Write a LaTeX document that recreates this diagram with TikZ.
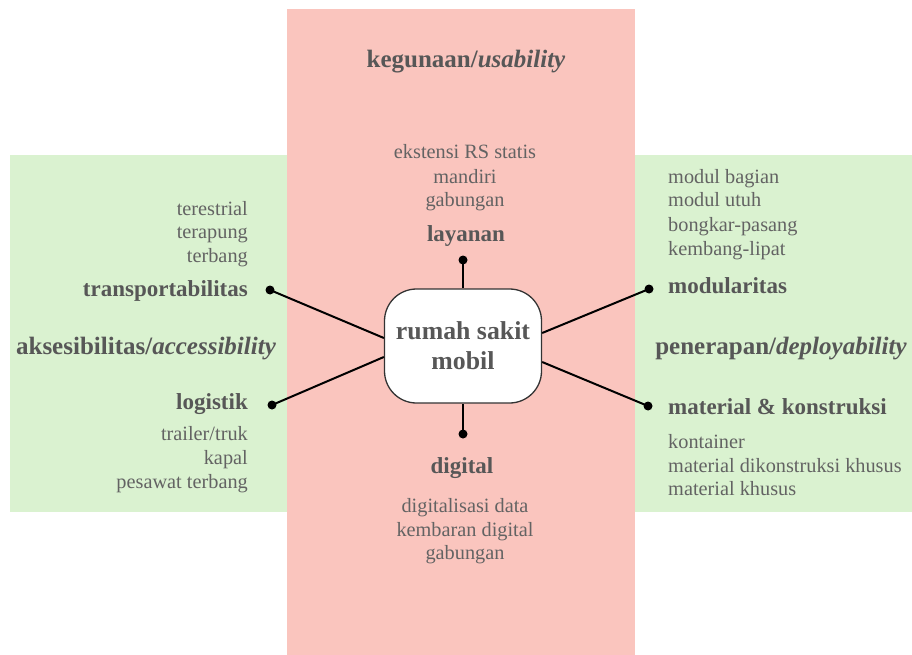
\documentclass[tikz,border=0pt]{standalone}
\usepackage{fontspec}
\setmainfont{Liberation Serif}
\definecolor{pinkbg}{HTML}{FAC5BE}
\definecolor{greenbg}{HTML}{DAF2D0}
\definecolor{headgray}{HTML}{575757}
\definecolor{itemgray}{HTML}{636363}
\tikzset{
  cat/.style={inner sep=0pt, text=headgray, font=\fontsize{25}{30}\selectfont\bfseries},
  sub/.style={inner sep=0pt, text=headgray, font=\fontsize{23}{28}\selectfont\bfseries},
  item/.style={inner sep=0pt, text=itemgray, font=\fontsize{20.3}{24}\selectfont},
  hub/.style={draw=black!80, line width=1.3pt, fill=white, rounded corners=32pt,
    minimum width=157pt, minimum height=114pt, align=center, text=headgray,
    font=\fontsize{25.8}{30}\selectfont\bfseries},
  dotnode/.style={circle, fill=black, inner sep=0pt, minimum size=9pt},
  link/.style={line width=2pt, black}
}
\begin{document}
\begin{tikzpicture}[x=1pt,y=-1pt]
\useasboundingbox (0,0) rectangle (912,655);
% backgrounds
\fill[greenbg] (10,155) rectangle (912,512);
\fill[pinkbg] (287,9) rectangle (635,655);

% hub
\node[hub] (hub) at (463,346) {rumah sakit\\mobil};

% top
\node[cat, anchor=base] (kegunaan) at (466,68) {kegunaan/\textit{usability}};
\node[item, anchor=base] (t1) at (465,159) {ekstensi RS statis};
\node[item, anchor=base] (t2) at (465,183) {mandiri};
\node[item, anchor=base] (t3) at (465,207) {gabungan};
\node[sub, anchor=base] (layanan) at (466,241) {layanan};

% bottom
\node[sub, anchor=base] (digital) at (462,473) {digital};
\node[item, anchor=base] (b1) at (465,512) {digitalisasi data};
\node[item, anchor=base] (b2) at (465,536) {kembaran digital};
\node[item, anchor=base] (b3) at (465,559) {gabungan};

% left
\node[item, anchor=base east] (l1) at (248,215) {terestrial};
\node[item, anchor=base east] (l2) at (248,238) {terapung};
\node[item, anchor=base east] (l3) at (248,262) {terbang};
\node[sub, anchor=base east] (transport) at (248,296) {transportabilitas};
\node[cat, anchor=base] (akses) at (146,354) {aksesibilitas/\textit{accessibility}};
\node[sub, anchor=base east] (logistik) at (248,409) {logistik};
\node[item, anchor=base east] (l4) at (248,440) {trailer/truk};
\node[item, anchor=base east] (l5) at (248,464) {kapal};
\node[item, anchor=base east] (l6) at (248,488) {pesawat terbang};

% right
\node[item, anchor=base west] (r1) at (668,183) {modul bagian};
\node[item, anchor=base west] (r2) at (668,207) {modul utuh};
\node[item, anchor=base west] (r3) at (668,231) {bongkar-pasang};
\node[item, anchor=base west] (r4) at (668,255) {kembang-lipat};
\node[sub, anchor=base west] (modular) at (668,293) {modularitas};
\node[cat, anchor=base] (penerapan) at (781,354) {penerapan/\textit{deployability}};
\node[sub, anchor=base west] (material) at (668,414) {material \& konstruksi};
\node[item, anchor=base west] (r5) at (668,448) {kontainer};
\node[item, anchor=base west] (r6) at (668,472) {material dikonstruksi khusus};
\node[item, anchor=base west] (r7) at (668,495) {material khusus};

% dots
\node[dotnode] (dtop) at (463,260) {};
\node[dotnode] (dbot) at (463,434) {};
\node[dotnode] (dlu) at (270,290) {};
\node[dotnode] (dll) at (272,405) {};
\node[dotnode] (dru) at (649,289) {};
\node[dotnode] (drl) at (648,406) {};

% links
\draw[link] (dtop.center) -- (hub.north);
\draw[link] (dbot.center) -- (hub.south);
\draw[link] (dlu.center) -- ([yshift=8pt]hub.west);
\draw[link] (dll.center) -- ([yshift=-11pt]hub.west);
\draw[link] (dru.center) -- ([yshift=13pt]hub.east);
\draw[link] (drl.center) -- ([yshift=-16pt]hub.east);
\end{tikzpicture}
\end{document}
